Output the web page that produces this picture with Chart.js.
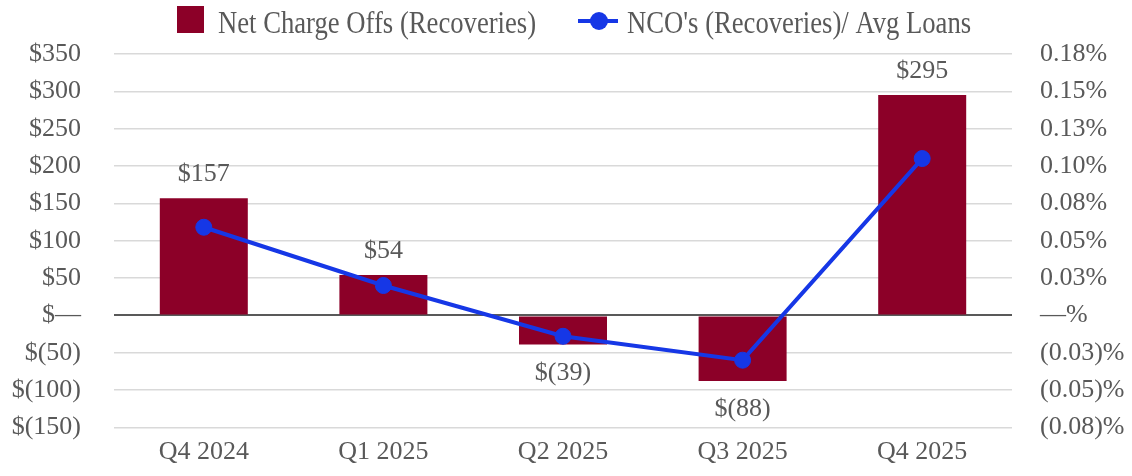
<!DOCTYPE html>
<html>
<head>
<meta charset="utf-8">
<script src="https://cdn.jsdelivr.net/npm/chart.js@4/dist/chart.umd.min.js"></script>
<style>
  html, body { margin: 0; padding: 0; background: #fff; }
  #wrap { width: 1132px; height: 476px; }
</style>
</head>
<body>
<div id="wrap"><canvas id="ncoChart"></canvas></div>
<script>
// quarters and values
const quarters = ['Q4 2024', 'Q1 2025', 'Q2 2025', 'Q3 2025', 'Q4 2025'];
const netChargeOffs = [157, 54, -39, -88, 295];          // $ thousands
const ncoRatio = [0.059, 0.020, -0.014, -0.030, 0.105];   // percent of avg loans

const leftTicks = [-150, -100, -50, 0, 50, 100, 150, 200, 250, 300, 350];
const leftTickLabels = ['$(150)', '$(100)', '$(50)', '$\u2014', '$50', '$100', '$150', '$200', '$250', '$300', '$350'];
const rightTicks = [-0.075, -0.05, -0.025, 0, 0.025, 0.05, 0.075, 0.1, 0.125, 0.15, 0.175];
const rightTickLabels = ['(0.08)%', '(0.05)%', '(0.03)%', '\u2014%', '0.03%', '0.05%', '0.08%', '0.10%', '0.13%', '0.15%', '0.18%'];

const barColor = '#8C0028';
const lineColor = '#1637E6';
const textColor = '#595959';
const fontFamily = '"Liberation Serif", "Times New Roman", serif';

function fmtDollar(v) {
    return v < 0 ? '$(' + Math.abs(v) + ')' : '$' + v;
}

// value labels above / below the bars
const barLabels = {
    id: 'barLabels',
    afterDatasetsDraw(chart) {
        const ctx = chart.ctx;
        const meta = chart.getDatasetMeta(0);
        ctx.save();
        ctx.font = '26px ' + fontFamily;
        ctx.fillStyle = textColor;
        ctx.textAlign = 'center';
        ctx.textBaseline = 'alphabetic';
        meta.data.forEach((bar, i) => {
            const v = netChargeOffs[i];
            const y = v >= 0 ? bar.y - 17 : bar.y + 35;
            ctx.fillText(fmtDollar(v), bar.x, y);
        });
        ctx.restore();
    }
};

// legend drawn by hand (slightly condensed serif text)
const topLegend = {
    id: 'topLegend',
    afterDraw(chart) {
        const ctx = chart.ctx;
        ctx.save();
        ctx.fillStyle = barColor;
        ctx.fillRect(177, 6, 27, 27);

        ctx.strokeStyle = lineColor;
        ctx.lineWidth = 4;
        ctx.beginPath();
        ctx.moveTo(578, 21);
        ctx.lineTo(618, 21);
        ctx.stroke();
        ctx.fillStyle = lineColor;
        ctx.beginPath();
        ctx.arc(599, 21, 9, 0, Math.PI * 2);
        ctx.fill();

        ctx.fillStyle = textColor;
        ctx.font = '31px ' + fontFamily;
        ctx.textBaseline = 'alphabetic';
        const items = [[chart.data.datasets[0].label, 218], [chart.data.datasets[1].label, 627]];
        items.forEach(([txt, x]) => {
            ctx.save();
            ctx.translate(x, 33);
            ctx.scale(0.86, 1);
            ctx.fillText(txt, 0, 0);
            ctx.restore();
        });
        ctx.restore();
    }
};

const ctx = document.getElementById('ncoChart').getContext('2d');
const ncoChart = new Chart(ctx, {
    type: 'bar',
    data: {
        labels: quarters,
        datasets: [{
            type: 'bar',
            label: 'Net Charge Offs (Recoveries)',
            data: netChargeOffs,
            backgroundColor: barColor,
            yAxisID: 'y',
            barPercentage: 0.49,
            categoryPercentage: 1,
            order: 1
        }, {
            type: 'line',
            label: "NCO's (Recoveries)/ Avg Loans",
            data: ncoRatio,
            borderColor: lineColor,
            backgroundColor: lineColor,
            borderWidth: 4,
            pointRadius: 8,
            pointHoverRadius: 8,
            pointBorderWidth: 1,
            yAxisID: 'y1',
            tension: 0,
            order: 0
        }]
    },
    options: {
        responsive: true,
        maintainAspectRatio: false,
        animation: false,
        layout: { padding: { top: 54, left: 12, right: 4, bottom: 0 } },
        scales: {
            x: {
                afterFit: s => { s.height = 47; },
                grid: { display: false, drawTicks: false },
                border: { display: false },
                ticks: {
                    color: textColor,
                    font: { family: fontFamily, size: 26 },
                    padding: 9,
                    maxRotation: 0
                }
            },
            y: {
                position: 'left',
                min: -150,
                max: 350,
                afterBuildTicks: s => { s.ticks = leftTicks.map(v => ({ value: v })); },
                afterFit: s => { s.width = 102; },
                border: { display: false },
                grid: {
                    drawTicks: false,
                    color: c => c.tick && c.tick.value === 0 ? '#595959' : '#D9D9D9',
                    lineWidth: c => c.tick && c.tick.value === 0 ? 2 : 1.5
                },
                ticks: {
                    color: textColor,
                    font: { family: fontFamily, size: 26 },
                    padding: 33,
                    callback: (v, i) => leftTickLabels[i]
                }
            },
            y1: {
                position: 'right',
                min: -0.075,
                max: 0.175,
                afterBuildTicks: s => { s.ticks = rightTicks.map(v => ({ value: v })); },
                afterFit: s => { s.width = 116; },
                border: { display: false },
                grid: { display: false, drawTicks: false },
                ticks: {
                    color: textColor,
                    font: { family: fontFamily, size: 26 },
                    padding: 28,
                    callback: (v, i) => rightTickLabels[i]
                }
            }
        },
        plugins: {
            legend: { display: false },
            tooltip: { enabled: false }
        }
    },
    plugins: [barLabels, topLegend]
});
</script>
</body>
</html>
